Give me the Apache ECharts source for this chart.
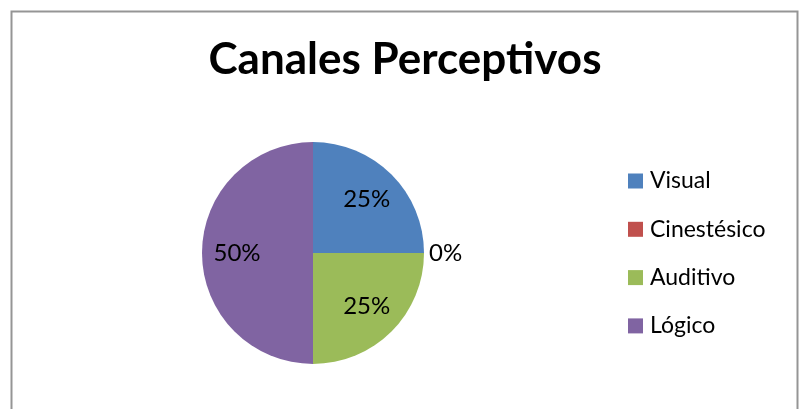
<!DOCTYPE html>
<html>
<head>
<meta charset="utf-8">
<script src="https://cdn.jsdelivr.net/npm/echarts@6/dist/echarts.min.js"></script>
<style>
html,body{margin:0;padding:0;background:#fff;}
#chart{width:810px;height:409px;}
</style>
</head>
<body>
<div id="chart"></div>
<script>
const titleText = 'Canales Perceptivos';
const categories = ['Visual', 'Cinestésico', 'Auditivo', 'Lógico'];
const values = [25, 0, 25, 50];
const colors = ['#4F81BD', '#C0504D', '#9BBB59', '#8064A2'];

const FONT = 'Lato';
const chart = echarts.init(document.getElementById('chart'), null, {renderer: 'canvas'});

const mainData = categories.map((c, i) => ({
  name: c, value: values[i],
  itemStyle: {color: colors[i]},
  label: {show: values[i] === 0}
}));
const labelData = categories.map((c, i) => ({
  name: c, value: values[i],
  label: {show: values[i] !== 0}
}));

chart.setOption({
  backgroundColor: '#ffffff',
  animation: false,
  title: {
    text: titleText,
    left: 'center',
    top: 33,
    textStyle: {fontFamily: FONT, fontWeight: 'bold', fontSize: 44, color: '#000'}
  },
  legend: {
    orient: 'vertical',
    left: 628,
    top: 169,
    padding: 0,
    itemWidth: 15,
    itemHeight: 15,
    itemGap: 24.3,
    icon: 'rect',
    data: categories,
    textStyle: {fontFamily: FONT, fontSize: 23, color: '#000', lineHeight: 24, padding: [0, 0, 0, 2]}
  },
  graphic: [{
    type: 'rect',
    shape: {x: 11.5, y: 11.5, width: 786, height: 420},
    style: {fill: 'none', stroke: '#959595', lineWidth: 2},
    silent: true
  }],
  series: [{
    type: 'pie',
    center: [313, 253],
    radius: [0, 111],
    startAngle: 90,
    clockwise: true,
    data: mainData,
    itemStyle: {borderWidth: 0},
    label: {
      position: 'outside',
      formatter: '{d}%',
      fontFamily: FONT, fontSize: 24, color: '#000',
      distanceToLabelLine: 5
    },
    labelLine: {show: false, length: 0, length2: 0},
    emphasis: {disabled: true}
  }, {
    type: 'pie',
    center: [313, 253],
    radius: [0, 146],
    startAngle: 90,
    clockwise: true,
    silent: true,
    data: labelData,
    itemStyle: {color: 'rgba(0,0,0,0)', borderWidth: 0},
    label: {
      position: 'inside',
      formatter: '{d}%',
      fontFamily: FONT, fontSize: 24, color: '#000'
    },
    labelLine: {show: false},
    emphasis: {disabled: true}
  }]
});
</script>
</body>
</html>
